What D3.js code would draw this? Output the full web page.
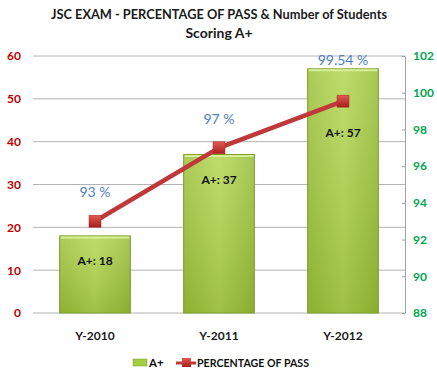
<!DOCTYPE html>
<html><head><meta charset="utf-8">
<script src="https://cdn.jsdelivr.net/npm/d3@7"></script>
<style>body{margin:0;background:#fff}svg{display:block}</style>
</head><body><svg id="c" width="437" height="376"></svg>
<script>
const categories = ["Y-2010", "Y-2011", "Y-2012"];
const aPlus = [18, 37, 57];
const passPct = [93, 97, 99.54];
const passLabels = ["93 %", "97 %", "99.54 %"];
const leftTicks = [0, 10, 20, 30, 40, 50, 60];
const rightTicks = [88, 90, 92, 94, 96, 98, 100, 102];
const titleLines = ["JSC EXAM - PERCENTAGE OF PASS & Number of Students", "Scoring A+"];
const legendNames = ["A+", "PERCENTAGE OF PASS"];

const svg = d3.select("#c");
const font = "Lato, 'Open Sans', sans-serif";
const L = 33, R = 405, T = 56, B = 313;

const defs = svg.append("defs");
const g1 = defs.append("linearGradient").attr("id","barG").attr("x1",0).attr("x2",1).attr("y1",0).attr("y2",0);
g1.append("stop").attr("offset","0").attr("stop-color","#9cc13a");
g1.append("stop").attr("offset","0.5").attr("stop-color","#b3d651");
g1.append("stop").attr("offset","1").attr("stop-color","#98bd37");
const g2 = defs.append("linearGradient").attr("id","barV").attr("x1",0).attr("x2",0).attr("y1",0).attr("y2",1);
g2.append("stop").attr("offset","0").attr("stop-color","#ffffff").attr("stop-opacity",0.15);
g2.append("stop").attr("offset","1").attr("stop-color","#4f6b10").attr("stop-opacity",0.2);
const g3 = defs.append("linearGradient").attr("id","mkG").attr("x1",0).attr("x2",0).attr("y1",0).attr("y2",1);
g3.append("stop").attr("offset","0").attr("stop-color","#e05a56");
g3.append("stop").attr("offset","1").attr("stop-color","#a8201c");

// title
const tt = svg.append("g").selectAll("text").data(titleLines).join("text")
  .attr("x", 219).attr("y", (d,i)=>19 + i*19).attr("text-anchor","middle")
  .attr("font-family", font).attr("font-weight","bold").attr("font-size",14).attr("fill","#1a1a1a")
  .text(d=>d);
tt.filter((d,i)=>i===0).attr("textLength",336).attr("lengthAdjust","spacingAndGlyphs");

const x = d3.scaleBand().domain(categories).range([L, R]).paddingInner(0.43).paddingOuter(0.215);
const yL = d3.scaleLinear().domain([0, 60]).range([B, T]);
const yR = d3.scaleLinear().domain([88, 102]).range([B, T]);

// gridlines
svg.append("g").selectAll("line").data(leftTicks).join("line")
  .attr("x1", L).attr("x2", R).attr("y1", d=>yL(d)).attr("y2", d=>yL(d))
  .attr("stroke","#b4b4b4").attr("stroke-width",1);

// left axis labels
const la = svg.append("g").attr("transform",`translate(${L},0)`)
  .call(d3.axisLeft(yL).tickValues(leftTicks).tickSize(0).tickPadding(12));
la.select(".domain").remove();
la.selectAll("text").attr("font-family",font).attr("font-weight","bold").attr("font-size",12).attr("fill","#c00000");

// right axis
const ra = svg.append("g").attr("transform",`translate(${R},0)`)
  .call(d3.axisRight(yR).tickValues(rightTicks).tickSizeInner(-3).tickSizeOuter(0).tickPadding(8));
ra.select(".domain").attr("stroke","#a0a0a0");
ra.selectAll(".tick line").attr("stroke","#a0a0a0");
ra.selectAll("text").attr("font-family",font).attr("font-weight","bold").attr("font-size",12).attr("fill","#00a550");

// x labels
svg.append("g").selectAll("text").data(categories).join("text")
  .attr("x", d=>x(d)+x.bandwidth()/2).attr("y", 340).attr("text-anchor","middle")
  .attr("font-family",font).attr("font-weight","bold").attr("font-size",12).attr("fill","#1a1a1a").text(d=>d);

// bars
const bars = svg.append("g");
bars.selectAll("rect.b").data(aPlus).join("rect").attr("class","b")
  .attr("x",(d,i)=>x(categories[i])).attr("width",x.bandwidth())
  .attr("y",d=>yL(d)).attr("height",d=>B-yL(d))
  .attr("fill","url(#barG)").attr("stroke","#7d9c2a").attr("stroke-width",1);
bars.selectAll("rect.s").data(aPlus).join("rect").attr("class","s")
  .attr("x",(d,i)=>x(categories[i])+0.5).attr("width",x.bandwidth()-1)
  .attr("y",d=>yL(d)+0.5).attr("height",d=>B-yL(d)-1)
  .attr("fill","url(#barV)");
bars.selectAll("line.h").data(aPlus).join("line").attr("class","h")
  .attr("x1",(d,i)=>x(categories[i])+1).attr("x2",(d,i)=>x(categories[i])+x.bandwidth()-1)
  .attr("y1",d=>yL(d)+1.5).attr("y2",d=>yL(d)+1.5).attr("stroke","#d8ef9a").attr("stroke-width",2);

// bar labels
svg.append("g").selectAll("text").data(aPlus).join("text")
  .attr("x",(d,i)=>x(categories[i])+x.bandwidth()/2)
  .attr("y",(d,i)=>{
    const top = yL(d), my = yR(passPct[i]);
    return (my > top) ? my + 36 : top + 29;
  })
  .attr("text-anchor","middle").attr("font-family",font).attr("font-weight","bold").attr("font-size",12).attr("fill","#111")
  .text(d=>"A+: " + d);

// line
const cx = (i)=>x(categories[i])+x.bandwidth()/2;
const line = d3.line().x((d,i)=>cx(i)).y(d=>yR(d));
svg.append("path").datum(passPct).attr("d",line).attr("fill","none").attr("stroke","#c0393a").attr("stroke-width",4.5);
svg.append("g").selectAll("rect").data(passPct).join("rect")
  .attr("x",(d,i)=>cx(i)-6).attr("y",d=>yR(d)-6).attr("width",12).attr("height",12)
  .attr("fill","url(#mkG)").attr("stroke","#b02a26").attr("stroke-width",0.5);

// percent labels
svg.append("g").selectAll("text").data(passPct).join("text")
  .attr("x",(d,i)=>cx(i)).attr("y",(d,i)=>Math.min(yR(d)-24, yL(aPlus[i])-4))
  .attr("text-anchor","middle").attr("font-family",font).attr("font-size",14).attr("fill","#4f81bd")
  .text((d,i)=>passLabels[i]);

// legend
const lg = svg.append("g").attr("font-family",font).attr("font-size",11.5).attr("fill","#111");
lg.append("rect").attr("x",133).attr("y",359).attr("width",14).attr("height",7).attr("fill","#a6cc45").attr("stroke","#7d9c2a").attr("stroke-width",0.5);
lg.append("text").attr("x",149).attr("y",367).attr("font-weight","bold").text(legendNames[0]);
lg.append("line").attr("x1",176).attr("x2",196).attr("y1",363).attr("y2",363).attr("stroke","#c0393a").attr("stroke-width",3);
lg.append("rect").attr("x",182).attr("y",358).attr("width",9).attr("height",9).attr("fill","url(#mkG)");
lg.append("text").attr("x",197).attr("y",367).attr("font-weight","bold")
  .attr("textLength",112).attr("lengthAdjust","spacingAndGlyphs").text(legendNames[1]);
</script></body></html>
